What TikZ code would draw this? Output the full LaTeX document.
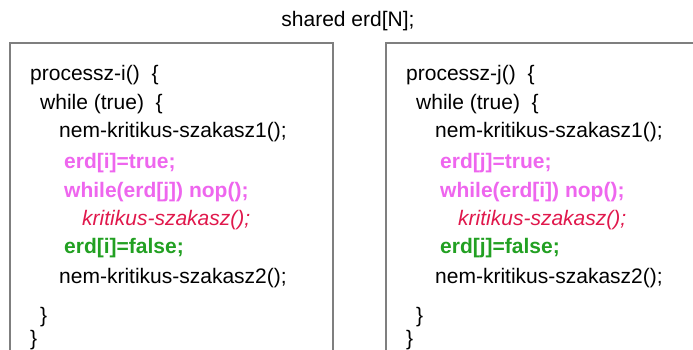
\documentclass[tikz,border=0pt]{standalone}
\usepackage{fontspec}
\setmainfont{Liberation Sans}
\definecolor{boxgray}{HTML}{7F7F7F}
\definecolor{codepink}{HTML}{EE66EE}
\definecolor{codered}{HTML}{E0184C}
\definecolor{codegreen}{HTML}{22A022}
\tikzset{
  code/.style={anchor=base west, inner sep=0pt, font=\fontsize{21}{25}\selectfont, text=black},
  pinkline/.style={code, text=codepink, font=\fontsize{21}{25}\selectfont\bfseries},
  greenline/.style={code, text=codegreen, font=\fontsize{21}{25}\selectfont\bfseries},
  redline/.style={code, text=codered, font=\fontsize{21}{25}\selectfont\itshape},
  procbox/.style={draw=boxgray, line width=1.6pt}
}
\begin{document}
\begin{tikzpicture}[x=1pt,y=-1pt]
\useasboundingbox (0,0) rectangle (693,350);
\clip (0,0) rectangle (693,350);
\node[code, anchor=base] (title) at (348,27) {shared erd[N];};
\draw[procbox] (10,380) -- (10,43) -- (333,43) -- (333,380);
\draw[procbox] (386,380) -- (386,43) -- (720,43);
% left process
\node[code] (l1) at (30,81) {processz-i()\ \ \{};
\node[code] (l2) at (40,110) {while (true)\ \ \{};
\node[code] (l3) at (59,138) {nem-kritikus-szakasz1();};
\node[pinkline] (l4) at (64,168) {erd[i]=true;};
\node[pinkline] (l5) at (64,197) {while(erd[j]) nop();};
\node[redline] (l6) at (82,225) {kritikus-szakasz();};
\node[greenline] (l7) at (64,253) {erd[i]=false;};
\node[code] (l8) at (59,283) {nem-kritikus-szakasz2();};
\node[code] (l9) at (40,322) {\}};
\node[code] (l10) at (30,345) {\}};
% right process
\node[code] (r1) at (406,81) {processz-j()\ \ \{};
\node[code] (r2) at (416,110) {while (true)\ \ \{};
\node[code] (r3) at (435,138) {nem-kritikus-szakasz1();};
\node[pinkline] (r4) at (440,168) {erd[j]=true;};
\node[pinkline] (r5) at (440,197) {while(erd[i]) nop();};
\node[redline] (r6) at (458,225) {kritikus-szakasz();};
\node[greenline] (r7) at (440,253) {erd[j]=false;};
\node[code] (r8) at (435,283) {nem-kritikus-szakasz2();};
\node[code] (r9) at (416,322) {\}};
\node[code] (r10) at (406,345) {\}};
\end{tikzpicture}
\end{document}
